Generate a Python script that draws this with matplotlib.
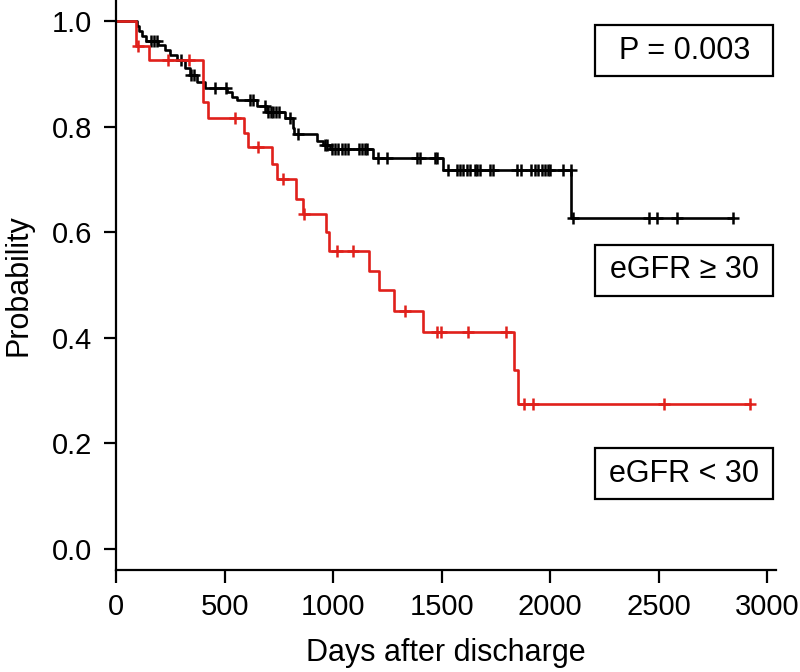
import numpy as np
import matplotlib
matplotlib.use("Agg")
import matplotlib.pyplot as plt
from matplotlib.patches import Rectangle

plt.rcParams['font.family'] = ['Liberation Sans', 'DejaVu Sans']

# eGFR >= 30 (black): event days and survival after each step
hi_days = [95, 108, 122, 140, 195, 225, 250, 280, 320, 341, 372, 410, 510, 534,
           556, 648, 697, 780, 815, 822, 927, 955, 986, 1185, 1507, 2097]
hi_surv = [0.990, 0.981, 0.972, 0.963, 0.954, 0.945, 0.936, 0.926, 0.912, 0.898,
           0.884, 0.874, 0.865, 0.856, 0.850, 0.840, 0.827, 0.817, 0.798, 0.786,
           0.773, 0.765, 0.758, 0.741, 0.718, 0.627]
hi_cens = [160, 175, 190, 300, 345, 360, 456, 507, 617, 633, 687, 700, 712, 725,
           738, 750, 802, 840, 963, 971, 994, 1009, 1024, 1040, 1055, 1070, 1117,
           1132, 1147, 1155, 1209, 1247, 1385, 1401, 1470, 1478, 1531, 1570, 1585,
           1600, 1616, 1631, 1654, 1662, 1677, 1723, 1738, 1848, 1865, 1912, 1928,
           1942, 1962, 1975, 1992, 2000, 2061, 2095, 2104, 2453, 2493, 2586, 2840]

# eGFR < 30 (red)
lo_days = [92, 152, 400, 425, 590, 607, 720, 740, 830, 862, 968, 983, 1167, 1213,
           1282, 1415, 1831, 1853]
lo_surv = [0.952, 0.927, 0.847, 0.817, 0.788, 0.762, 0.730, 0.700, 0.663, 0.634,
           0.600, 0.564, 0.527, 0.490, 0.450, 0.410, 0.339, 0.274]
lo_cens = [102, 240, 337, 549, 655, 770, 867, 1019, 1092, 1332, 1480, 1498, 1623,
           1798, 1881, 1922, 2522, 2918]

labels = ["P = 0.003", "eGFR \u2265 30", "eGFR < 30"]


def km_curve(days, surv, cens):
    t = np.concatenate([[0], days, [max(cens)]])
    s = np.concatenate([[1.0], surv, [surv[-1]]])
    idx = np.searchsorted(days, cens, side='right')
    s_c = np.concatenate([[1.0], surv])[idx]
    return t, s, s_c


fig = plt.figure(figsize=(8, 6.72), dpi=100)
ax = fig.add_axes([0.145, 0.152, 0.825, 0.848])

for days, surv, cens, col in [(hi_days, hi_surv, hi_cens, 'black'),
                              (lo_days, lo_surv, lo_cens, '#e0201b')]:
    t, s, s_c = km_curve(days, surv, cens)
    ax.step(t, s, where='post', color=col, lw=1.9)
    ax.plot(cens, s_c, ls='none', marker='+', ms=9, mew=1.8, color=col)

ax.set_xlim(0, 3040)
ax.set_ylim(-0.04, 1.04)
ax.set_xticks(range(0, 3001, 500))
ax.set_yticks([0.0, 0.2, 0.4, 0.6, 0.8, 1.0])
ax.set_yticklabels(['0.0', '0.2', '0.4', '0.6', '0.8', '1.0'])
ax.spines['top'].set_visible(False)
ax.spines['right'].set_visible(False)
ax.spines['left'].set_linewidth(1.6)
ax.spines['bottom'].set_linewidth(1.6)
ax.tick_params(length=9, width=1.6, labelsize=21, pad=8)
ax.set_xlabel("Days after discharge", fontsize=22, labelpad=12)
ax.set_ylabel("Probability", fontsize=22, labelpad=13)

# boxed annotations (axes coordinates)
for txt, yc in zip(labels, [0.911, 0.526, 0.169]):
    w, h = 0.27, 0.0895
    ax.add_patch(Rectangle((0.861 - w / 2, yc - h / 2), w, h, transform=ax.transAxes,
                           fc='white', ec='black', lw=1.6, zorder=3))
    ax.text(0.861, yc, txt, transform=ax.transAxes, fontsize=22,
            ha='center', va='center', zorder=4)

fig.savefig("out.png", dpi=100)
